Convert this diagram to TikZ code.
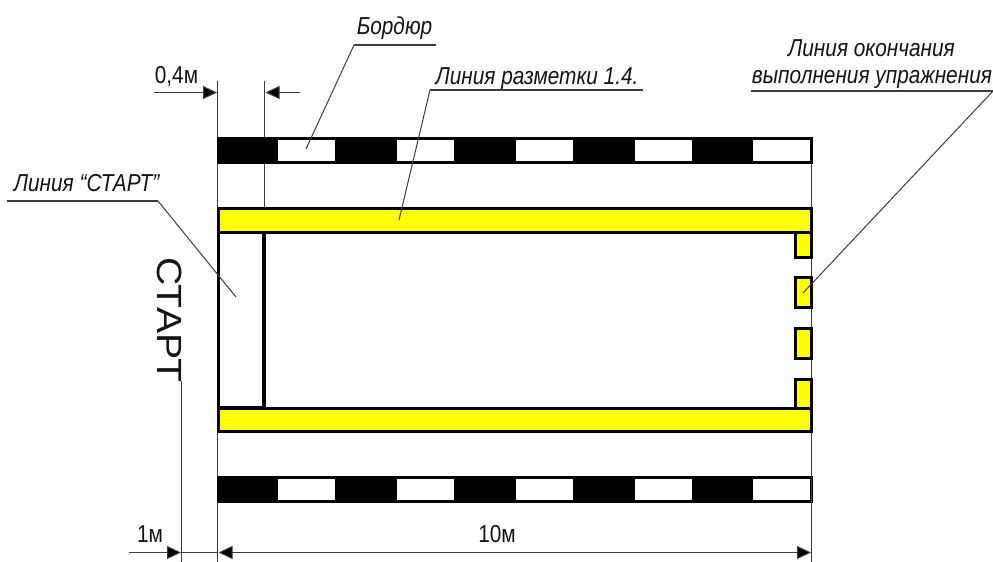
\documentclass[tikz,border=0pt]{standalone}
\usepackage{fontspec}
\setmainfont{Liberation Sans}
\newfontfamily\narrowfont[FakeStretch=0.85]{Liberation Sans}
\newfontfamily\wideletters[FakeStretch=1.12]{Liberation Sans}
\usetikzlibrary{arrows.meta}
\definecolor{markyellow}{RGB}{255,255,0}
\definecolor{thinline}{RGB}{60,60,60}
\tikzset{
  thick box/.style={draw=black,line width=3pt},
  yellowbox/.style={thick box,fill=markyellow},
  thinrule/.style={draw=thinline,line width=1pt},
  leader/.style={draw=thinline,line width=1pt},
  underl/.style={draw=thinline,line width=1.5pt},
  dim/.style={draw=thinline,line width=1pt},
  tipshape/.tip={Triangle[length=14pt,width=13pt,fill=black]},
  lab/.style={font=\narrowfont\fontsize{24.5}{27}\selectfont\itshape,inner sep=0pt,anchor=base,text=black!92},
  dimlab/.style={font=\narrowfont\fontsize{24.5}{27}\selectfont,inner sep=0pt,anchor=base,text=black!92},
}
\begin{document}
\begin{tikzpicture}[x=1pt,y=-1pt]
\useasboundingbox (0,0) rectangle (993,562);
% kerbs
\foreach \y in {150.3,489.5}{
  \draw[thick box,fill=white] (218.2,\y-12) rectangle (811.2,\y+12);
  \foreach \a/\b in {217/278,335/397,454/516,573/635,692/753}{
    \fill[black] (\a,\y-12) rectangle (\b,\y+12);
  }
}
% thin lines
\coordinate (w1) at (217.5,81);
\coordinate (w2) at (264,81);
\coordinate (w3) at (811.7,164);
\coordinate (w4) at (811.7,562);
\draw[thinrule] (w1) -- (217.5,137);
\draw[thinrule] (217.5,163) -- (217.5,207);
\draw[thinrule] (w2) -- (264,137);
\draw[thinrule] (264,163) -- (264,207);
\draw[thinrule] (w3) -- (w4);
\draw[thinrule] (217.5,433) -- (217.5,477);
\draw[thinrule] (217.5,502) -- (217.5,562);
\draw[thinrule] (181,381) -- (181,562);
% yellow lines and start box
\draw[black,line width=3.5pt,fill=white] (218.3,232) rectangle (264,408);
\coordinate (startbox) at (236,297);
\foreach \a/\b in {232/257,277.5/307.5,328.5/358.5,379.5/408}{
  \draw[yellowbox] (795.5,\a) rectangle (811.2,\b);
}
\coordinate (endblock) at (803,293);
\draw[yellowbox] (218.2,208.5) rectangle (811.2,232);
\draw[yellowbox] (218.2,408.5) rectangle (811.2,431.5);
% dims
\draw[dim,-tipshape] (154,92.5) -- (217,92.5);
\draw[dim,-tipshape] (300,92.5) -- (265.5,92.5);
\draw[dim,-tipshape] (129,552.5) -- (181,552.5);
\draw[dim] (181,552.5) -- (218,552.5);
\draw[dim,tipshape-tipshape] (218.5,552.5) -- (811,552.5);
\node[dimlab] (d1) at (176.5,83) {0,4м};
\node[dimlab] (d2) at (150,542) {1м};
\node[dimlab] (d3) at (497,542) {10м};
\node[font=\wideletters\fontsize{35}{40}\selectfont,inner sep=0pt,rotate=-90,text=black!92] (st) at (169.5,320) {СТАРТ};
% labels
\node[lab] (l1) at (394.5,34) {Бордюр};
\node[lab] (l2) at (537,84) {Линия разметки 1.4.};
\node[lab] (l3) at (86.5,191) {Линия “СТАРТ”};
\node[lab] (l4a) at (871.5,56) {Линия окончания};
\node[lab] (l4b) at (872,83) {выполнения упражнения};
\draw[underl] (436,45) -- (354,45);
\draw[leader] (354,45) -- (306,149);
\draw[underl] (643,90) -- (430,90);
\draw[leader] (430,90) -- (399,220);
\draw[underl] (7,201) -- (158,201);
\draw[leader] (158,201) -- (startbox);
\draw[underl] (751,91) -- (993,91);
\draw[leader] (993,91) -- (endblock);
\end{tikzpicture}
\end{document}
